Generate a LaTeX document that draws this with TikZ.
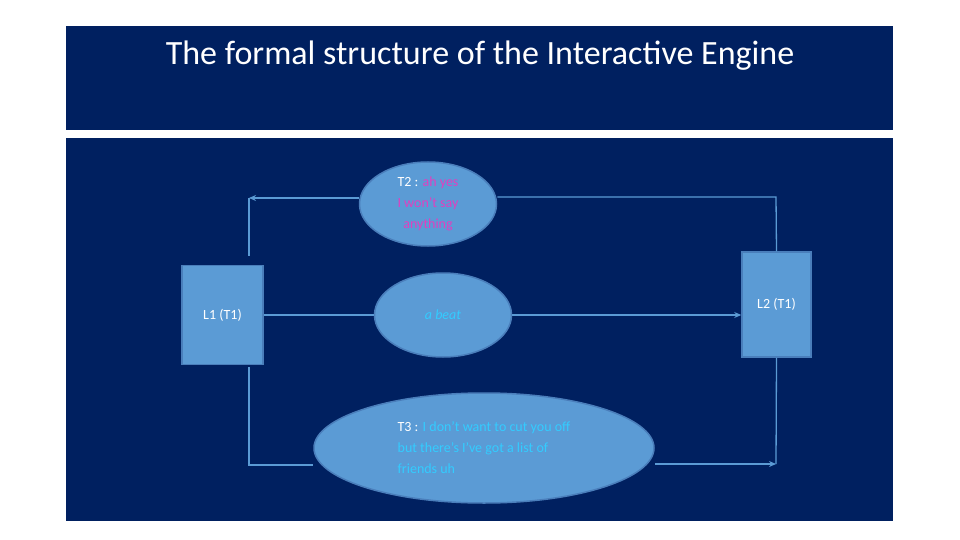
\documentclass[tikz,border=0pt]{standalone}
\usepackage{fontspec}
\setmainfont{Carlito}
\usetikzlibrary{shapes.geometric,arrows.meta}
\definecolor{navy}{HTML}{002060}
\definecolor{panel}{HTML}{5B9BD5}
\definecolor{rim}{HTML}{4A7EBB}
\definecolor{pinktext}{HTML}{E040C0}
\definecolor{cyantext}{HTML}{33CCFF}
\tikzset{
  box/.style={draw=rim,fill=panel,line width=1.5pt,minimum width=81pt,
    text=white,font=\fontsize{14}{16}\selectfont},
  blob/.style={ellipse,draw=rim,fill=panel,line width=1.5pt,inner sep=0pt,
    font=\fontsize{14}{21}\selectfont},
  link/.style={draw=panel,line width=1.3pt},
  tip/.style={link,-{Stealth[length=7pt,width=6pt]}}
}
\begin{document}
\begin{tikzpicture}[x=1pt,y=-1pt]
   \useasboundingbox (0,0) rectangle (960,540);
   \fill[navy] (66,26) rectangle (893,130);
   \fill[navy] (66,138) rectangle (893,521);
   \node (title) at (480,56) {\fontsize{34}{40}\selectfont\color{white}%
     The formal structure of the Interactive Engine};
   % speakers
   \node[box,minimum height=99pt] (l1) at (222.5,315) {L1 (T1)};
   \node[box,minimum width=69pt,minimum height=105pt] (l2) at (776.5,304.5) {L2 (T1)};
   % turns
   \node[blob,minimum width=137pt,minimum height=84pt,align=center] (t2) at (428,204)
     {\color{white}T2 : \color{pinktext}ah yes\\\color{pinktext}I won't say\\\color{pinktext}anything};
   \node[blob,minimum width=137pt,minimum height=84pt,text=cyantext] (beat) at (443,315)
     {\itshape a beat};
   \node[blob,minimum width=340pt,minimum height=110pt,align=left] (t3) at (484,448)
     {\color{white}T3 : \color{cyantext}I don't want to cut you off\\
      \color{cyantext}but there's I've got a list of\\\color{cyantext}friends uh};
   \coordinate (nw) at (249,198);
   \coordinate (ne) at (776,197);
   \coordinate (sw) at (249,465);
   \coordinate (se) at (776,464);
   % connectors
   \draw[link] (249,256) -- (nw);
   \draw[tip] (t2.west |- 0,198) -- (nw);
   \draw[link] (t2.east |- 0,197) -- (ne) -- (l2.north);
   \draw[link] (l1.east) -- (beat.west);
   \draw[tip] (beat.east) -- (l2.west |- beat.east);
   \draw[link] (249,367) -- (sw) -- (t3.west |- sw);
   \draw[tip] (t3.east |- se) -- (se);
   \draw[link] (l2.south) -- (se);
\end{tikzpicture}
\end{document}
